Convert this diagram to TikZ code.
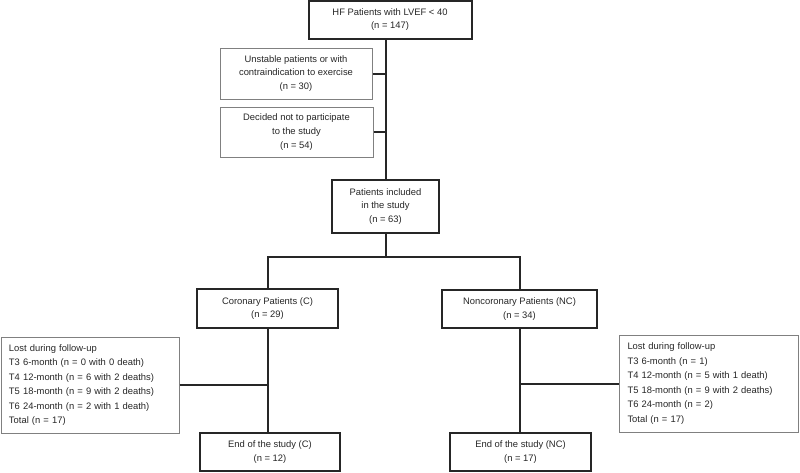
\documentclass[tikz,border=0pt]{standalone}
\usepackage{fontspec}
\setmainfont{Liberation Sans}
\definecolor{ink}{HTML}{262626}
\definecolor{thin}{HTML}{808080}
\begin{document}
\begin{tikzpicture}[x=1pt,y=-1pt,
  every node/.style={font=\fontsize{9.4}{13.7}\selectfont, text=ink, inner sep=0pt},
  mainbox/.style={draw=ink, line width=2pt, align=center},
  sidebox/.style={draw=thin, line width=1pt, align=center},
  lostbox/.style={draw=thin, line width=1pt, align=left, font=\fontsize{9.4}{14.5}\selectfont, text width=#1, inner xsep=8pt},
  conn/.style={draw=ink, line width=2pt}]
\useasboundingbox (0,0) rectangle (800,472);
\node[mainbox, minimum width=163pt, minimum height=38pt] (top) at (390,19.5) {HF Patients with LVEF < 40\\(n = 147)};
\node[sidebox, minimum width=152pt, minimum height=51pt] (unstable) at (296,73.5) {Unstable patients or with\\contraindication to exercise\\(n = 30)};
\node[sidebox, minimum width=153pt, minimum height=50pt] (decided) at (296.5,132) {Decided not to participate\\to the study\\(n = 54)};
\node[mainbox, minimum width=107pt, minimum height=53pt] (included) at (385.5,206.5) {Patients included\\in the study\\(n = 63)};
\node[mainbox, minimum width=141pt, minimum height=39pt] (coronary) at (267.5,308.5) {Coronary Patients (C)\\(n = 29)};
\node[mainbox, minimum width=155pt, minimum height=38pt] (noncoronary) at (519.5,309) {Noncoronary Patients (NC)\\(n = 34)};
\node[lostbox=162pt, minimum height=96pt] (lostC) at (90,385) {Lost during follow-up\\T3 6-month (n = 0 with 0 death)\\T4 12-month (n = 6 with 2 deaths)\\T5 18-month (n = 9 with 2 deaths)\\T6 24-month (n = 2 with 1 death)\\Total (n = 17)};
\node[lostbox=163pt, minimum height=97pt] (lostNC) at (709,383.5) {Lost during follow-up\\T3 6-month (n = 1)\\T4 12-month (n = 5 with 1 death)\\T5 18-month (n = 9 with 2 deaths)\\T6 24-month (n = 2)\\Total (n = 17)};
\node[mainbox, minimum width=140pt, minimum height=38pt] (endC) at (270,452) {End of the study (C)\\(n = 12)};
\node[mainbox, minimum width=141pt, minimum height=38pt] (endNC) at (520.5,452) {End of the study (NC)\\(n = 17)};
% connectors
\draw[conn] (top.south -| included.north) -- (included.north);
\draw[conn] (unstable.east) -- (unstable.east -| included.north);
\draw[conn] (decided.east) -- (decided.east -| included.north);
\draw[conn] (included.south) -- ++(0,23) coordinate (split);
\draw[conn] (coronary.north) |- (split) -| (noncoronary.north);
\draw[conn] (coronary.south) -- (coronary.south |- endC.north);
\draw[conn] (noncoronary.south) -- (noncoronary.south |- endNC.north);
\draw[conn] (lostC.east) -- (lostC.east -| coronary.south);
\draw[conn] (lostNC.west) -- (lostNC.west -| noncoronary.south);
\end{tikzpicture}
\end{document}
